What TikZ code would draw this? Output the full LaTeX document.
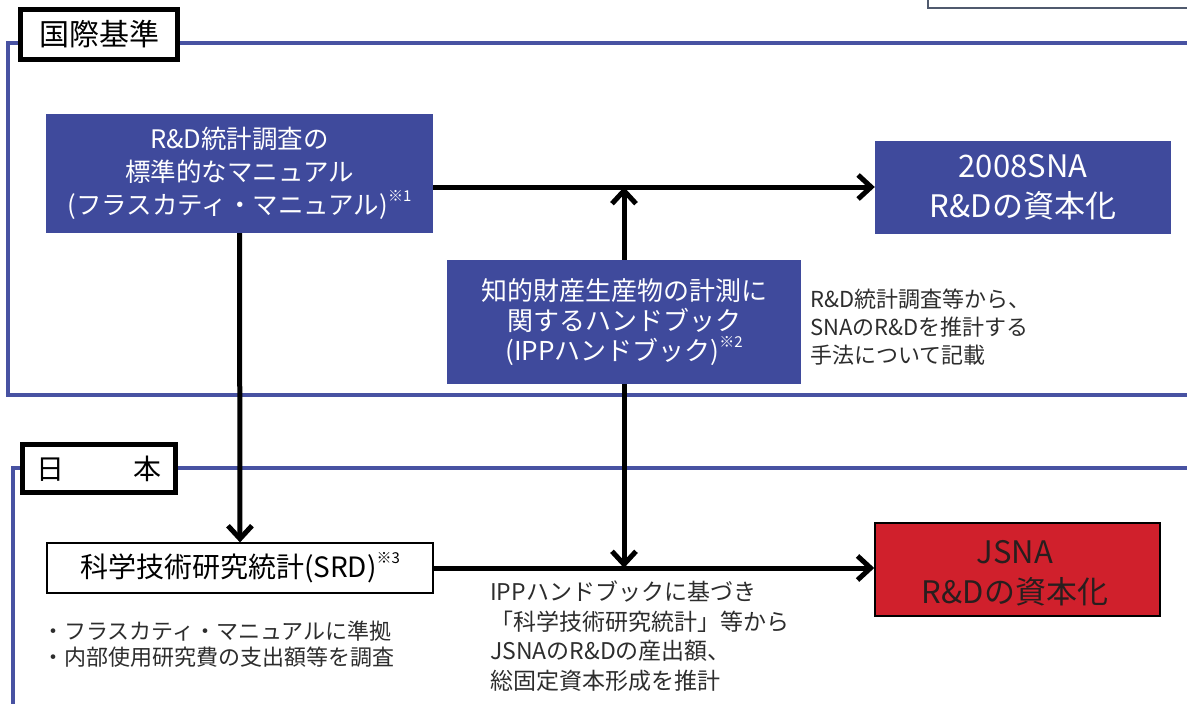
\documentclass[tikz,border=0pt]{standalone}
\usepackage{fontspec}
\setmainfont{Noto Sans CJK JP}
\usetikzlibrary{arrows.meta,calc}
\definecolor{boxblue}{RGB}{63,74,156}
\definecolor{frameblue}{RGB}{72,82,162}
\definecolor{boxred}{RGB}{208,32,44}
\definecolor{darktxt}{RGB}{40,30,30}
\definecolor{notetxt}{RGB}{45,45,45}
\definecolor{cornerline}{RGB}{80,90,110}
\newcommand\notemark[1]{\raisebox{0.5em}{\fontsize{15}{15}\selectfont #1}}
\begin{document}
\begin{tikzpicture}[x=1pt,y=-1pt,
  bluebox/.style={fill=boxblue, draw=none, text=white, inner sep=0pt, align=center},
  labelbox/.style={draw=black, line width=5pt, fill=white, inner sep=0pt},
  frameline/.style={draw=frameblue, line width=3.5pt},
  flow/.style={line width=5pt, -{Straight Barb[length=13pt,width=24pt]}},
  note/.style={text=notetxt, align=left, anchor=west, inner sep=0pt}
]
\useasboundingbox (0,0) rectangle (1187,704);
\fill[white] (0,0) rectangle (1187,704);
\clip (0,0) rectangle (1187,704);

% partial box at top right
\draw[cornerline, line width=1.5pt] (928,-20) rectangle (1230,8);

% frames
\draw[frameline] (1200,43) -- (8,43) -- (8,395) -- (1200,395);
\draw[frameline] (1200,468) -- (13,468) -- (13,720);

% section labels
\node[labelbox, minimum width=157pt, minimum height=50pt, font=\fontsize{30}{30}\selectfont] (lab1) at (99,34.5) {国際基準};
\node[labelbox, minimum width=153pt, minimum height=48pt, font=\fontsize{28}{28}\selectfont] (lab2) at (99,468.5) {日\hspace{69pt}本};

% boxes
\node[bluebox, minimum width=387pt, minimum height=119pt, font=\fontsize{25.5}{33}\selectfont] (a) at (239.5,173.5)
  {R\&D統計調査の\\標準的なマニュアル\\(フラスカティ・マニュアル)\notemark{※1}};
\node[bluebox, minimum width=296pt, minimum height=93pt, font=\fontsize{31}{40}\selectfont] (b) at (1023,187)
  {2008SNA\\R\&Dの資本化};
\node[bluebox, minimum width=354pt, minimum height=124pt, font=\fontsize{26}{30}\selectfont] (c) at (624,322)
  {知的財産生産物の計測に\\関するハンドブック\\(IPPハンドブック)\notemark{※2}};
\node[draw=black, line width=1.2pt, fill=white, inner sep=0pt, minimum width=386pt, minimum height=50pt,
  font=\fontsize{28}{28}\selectfont] (srd) at (240,568) {科学技術研究統計(SRD)\notemark{※3}};
\node[draw=black, line width=1.5pt, fill=boxred, inner sep=0pt, minimum width=285pt, minimum height=93pt] (jsna) at (1017.5,569.5) {};
\node[text=darktxt, align=center, inner sep=0pt, font=\fontsize{31}{40}\selectfont] (jsnaT) at (1015,573) {JSNA\\R\&Dの資本化};

% notes
\node[note, font=\fontsize{22}{28}\selectfont] (n1) at (810,327)
  {R\&D統計調査等から、\\SNAのR\&Dを推計する\\手法について記載};
\node[note, font=\fontsize{22}{26}\selectfont] (n2) at (42,644)
  {・フラスカティ・マニュアルに準拠\\・内部使用研究費の支出額等を調査};
\node[note, font=\fontsize{23}{29.5}\selectfont] (n3) at (490,636)
  {IPPハンドブックに基づき\\「科学技術研究統計」等から\\JSNAのR\&Dの産出額、\\総固定資本形成を推計};

% connectors
\draw[flow] (a.east |- b.west) -- (b.west);
\draw[flow] (c.north) -- (c.north |- b.west);
\draw[flow] (a.south) -- (srd.north);
\draw[flow] (srd.east) -- (srd.east -| jsna.west);
\draw[flow] (c.south) -- (c.south |- srd.east);
\end{tikzpicture}
\end{document}
